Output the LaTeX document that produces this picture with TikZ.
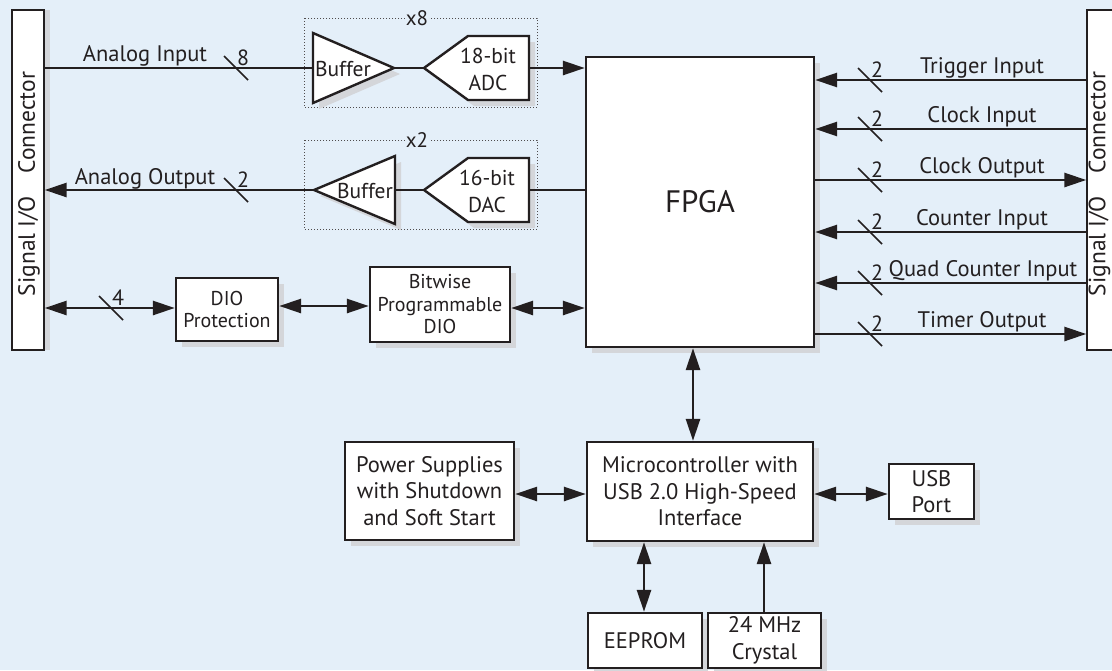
\documentclass[tikz,border=0pt]{standalone}
\usepackage{fontspec}
\setmainfont{PT Sans}
\usetikzlibrary{arrows.meta,shadows,calc}
\definecolor{bg}{RGB}{228,239,249}
\definecolor{ink}{RGB}{35,31,32}
\definecolor{shd}{RGB}{212,214,218}
\newcommand\busmark[4]{%
  \draw[slashln] (#1-12,#2-12) -- (#1+12,#2+12);
  \node[num,anchor=west] (#4) at (#1+1,#2-10) {#3};}
\begin{document}
\begin{tikzpicture}[x=1pt,y=-1pt,
  box/.style={draw=ink,line width=2.4pt,fill=white,inner sep=0pt,align=center,
    text=ink,font=\fontsize{22.5}{26.5}\selectfont,
    general shadow={fill=shd,shadow xshift=6pt,shadow yshift=-6pt}},
  smallbox/.style={box,font=\fontsize{20}{22.5}\selectfont},
  con/.style={draw=ink,line width=1.4pt,fill=white,inner sep=0pt,text=ink},
  wire/.style={draw=ink,line width=2.8pt},
  toarr/.style={-{Triangle[length=22pt,width=14pt]}},
  bothar/.style={{Triangle[length=22pt,width=14pt]}-{Triangle[length=22pt,width=14pt]}},
  slashln/.style={draw=ink,line width=1.5pt},
  num/.style={text=ink,inner sep=0pt,font=\fontsize{22}{24}\selectfont},
  lbl/.style={text=ink,inner sep=0pt,font=\fontsize{22.5}{24}\selectfont,anchor=base},
  amp/.style={draw=ink,line width=2.4pt,fill=white,line join=miter},
  ampshd/.style={fill=shd,shift={(6,6)}},
  grp/.style={draw=ink!80,line width=1pt,dotted},
  grplbl/.style={text=ink,inner sep=0pt,font=\fontsize{21}{22}\selectfont},
  amptxt/.style={text=ink,inner sep=0pt,align=center,font=\fontsize{21.5}{27}\selectfont},
  contxt/.style={text=ink,rotate=90,inner sep=0pt,font=\fontsize{23.5}{28}\selectfont}
]
\clip (0,0) rectangle (1112,670);
\fill[bg] (0,0) rectangle (1112,670);

% row coordinates
\coordinate (ai) at (0,68);
\coordinate (ao) at (0,190);
\coordinate (dio) at (0,308);
\coordinate (dio2) at (0,306);
\coordinate (r1) at (0,80);
\coordinate (r2) at (0,129);
\coordinate (r3) at (0,180);
\coordinate (r4) at (0,232);
\coordinate (r5) at (0,283);
\coordinate (r6) at (0,334);
\coordinate (vfm) at (693,0);
\coordinate (vee) at (644,0);
\coordinate (vxt) at (764,0);
\coordinate (hpm) at (0,494);

% connectors
\node[con,minimum width=32pt,minimum height=340pt,
  general shadow={fill=shd,shadow xshift=6pt,shadow yshift=0pt}] (lcon) at (28,180) {};
\node[contxt] (lcontxt) at (29,184) {Signal I/O\hspace{0.7em} Connector};
\node[con,minimum width=32pt,minimum height=340pt] (rcon) at (1103,180) {};
\node[contxt] (rcontxt) at (1099.5,184) {Signal I/O\hspace{0.7em} Connector};

% main boxes
\node[box,minimum width=228pt,minimum height=290pt,font=\fontsize{31}{34}\selectfont] (fpga) at (700,202) {FPGA};
\node[smallbox,minimum width=102pt,minimum height=63pt] (dioprot) at (227,309.5) {DIO\\Protection};
\node[smallbox,minimum width=140pt,minimum height=75pt] (bitwise) at (440,304.5) {Bitwise\\Programmable\\DIO};
\node[box,minimum width=169pt,minimum height=98pt] (power) at (429.5,491) {Power Supplies\\with Shutdown\\and Soft Start};
\node[box,minimum width=226pt,minimum height=99pt] (micro) at (700,491.5) {Microcontroller with\\USB 2.0 High-Speed\\Interface};
\node[box,minimum width=85pt,minimum height=55pt] (usb) at (931.5,491.5) {USB\\Port};
\node[box,minimum width=114pt,minimum height=55pt] (eeprom) at (645,640.5) {EEPROM};
\node[box,minimum width=113pt,minimum height=55pt] (crystal) at (764.5,640.5) {24 MHz\\Crystal};

% analog input chain
\draw[grp] (304,18) rectangle (537,107);
\node[grplbl,fill=bg,inner xsep=1pt] (x8) at (417,18) {x8};
\fill[ampshd] (313,33) -- (313,103) -- (394,68) -- cycle;
\fill[ampshd] (424,68) -- (468,36) -- (529,36) -- (529,100) -- (468,100) -- cycle;
\draw[amp] (313,33) -- (313,103) -- (394,68) -- cycle;
\draw[amp] (424,68) -- (468,36) -- (529,36) -- (529,100) -- (468,100) -- cycle;
\coordinate (b1in) at (313,68);
\coordinate (b1out) at (394,68);
\coordinate (adcin) at (424,68);
\coordinate (adcout) at (529,68);
\node[amptxt] (buf1) at (343,69) {Buffer};
\node[amptxt] (adc) at (488,69) {18-bit\\ADC};
\draw[wire] (lcon.east |- ai) -- (b1in);
\draw[wire] (b1out) -- (adcin);
\draw[wire,toarr] (adcout) -- (fpga.west |- ai);
\node[lbl] (ailbl) at (145,61) {Analog Input};
\busmark{236}{68}{8}{n8}

% analog output chain
\draw[grp] (304,140) rectangle (537,229);
\node[grplbl,fill=bg,inner xsep=1pt] (x2) at (417,140) {x2};
\fill[ampshd] (395,156) -- (395,224) -- (314,190) -- cycle;
\fill[ampshd] (424,190) -- (468,158) -- (529,158) -- (529,222) -- (468,222) -- cycle;
\draw[amp] (395,156) -- (395,224) -- (314,190) -- cycle;
\draw[amp] (424,190) -- (468,158) -- (529,158) -- (529,222) -- (468,222) -- cycle;
\coordinate (b2in) at (395,190);
\coordinate (b2out) at (314,190);
\coordinate (dacin) at (529,190);
\coordinate (dacout) at (424,190);
\node[amptxt] (buf2) at (365,191) {Buffer};
\node[amptxt] (dac) at (487,191) {16-bit\\DAC};
\draw[wire] (fpga.west |- ao) -- (dacin);
\draw[wire] (dacout) -- (b2in);
\draw[wire,toarr] (b2out) -- (lcon.east |- ao);
\node[lbl] (aolbl) at (145,184) {Analog Output};
\busmark{236}{190}{2}{n2a}

% DIO
\draw[wire,bothar] (lcon.east |- dio) -- (dioprot.west |- dio);
\draw[wire,bothar] (dioprot.east |- dio2) -- (bitwise.west |- dio2);
\draw[wire,bothar] (bitwise.east |- dio) -- (fpga.west |- dio);
\busmark{111}{308}{4}{n4}

% right side signals
\draw[wire,toarr] (rcon.west |- r1) -- (fpga.east |- r1);
\draw[wire,toarr] (rcon.west |- r2) -- (fpga.east |- r2);
\draw[wire,toarr] (fpga.east |- r3) -- (rcon.west |- r3);
\draw[wire,toarr] (rcon.west |- r4) -- (fpga.east |- r4);
\draw[wire,toarr] (rcon.west |- r5) -- (fpga.east |- r5);
\draw[wire,toarr] (fpga.east |- r6) -- (rcon.west |- r6);
\busmark{870}{80}{2}{nr1}
\busmark{870}{129}{2}{nr2}
\busmark{870}{180}{2}{nr3}
\busmark{870}{232}{2}{nr4}
\busmark{870}{283}{2}{nr5}
\busmark{870}{334}{2}{nr6}
\node[lbl] (l1) at (982,73) {Trigger Input};
\node[lbl] (l2) at (982,122) {Clock Input};
\node[lbl] (l3) at (982,173) {Clock Output};
\node[lbl] (l4) at (982,225) {Counter Input};
\node[lbl] (l5) at (983,276) {Quad Counter Input};
\node[lbl] (l6) at (982,327) {Timer Output};

% bottom connections
\draw[wire,bothar] (fpga.south -| vfm) -- (micro.north -| vfm);
\draw[wire,bothar] (power.east |- hpm) -- (micro.west |- hpm);
\draw[wire,bothar] (micro.east |- hpm) -- (usb.west |- hpm);
\draw[wire,bothar] (micro.south -| vee) -- (eeprom.north -| vee);
\draw[wire,toarr] (crystal.north -| vxt) -- (micro.south -| vxt);
\end{tikzpicture}
\end{document}
